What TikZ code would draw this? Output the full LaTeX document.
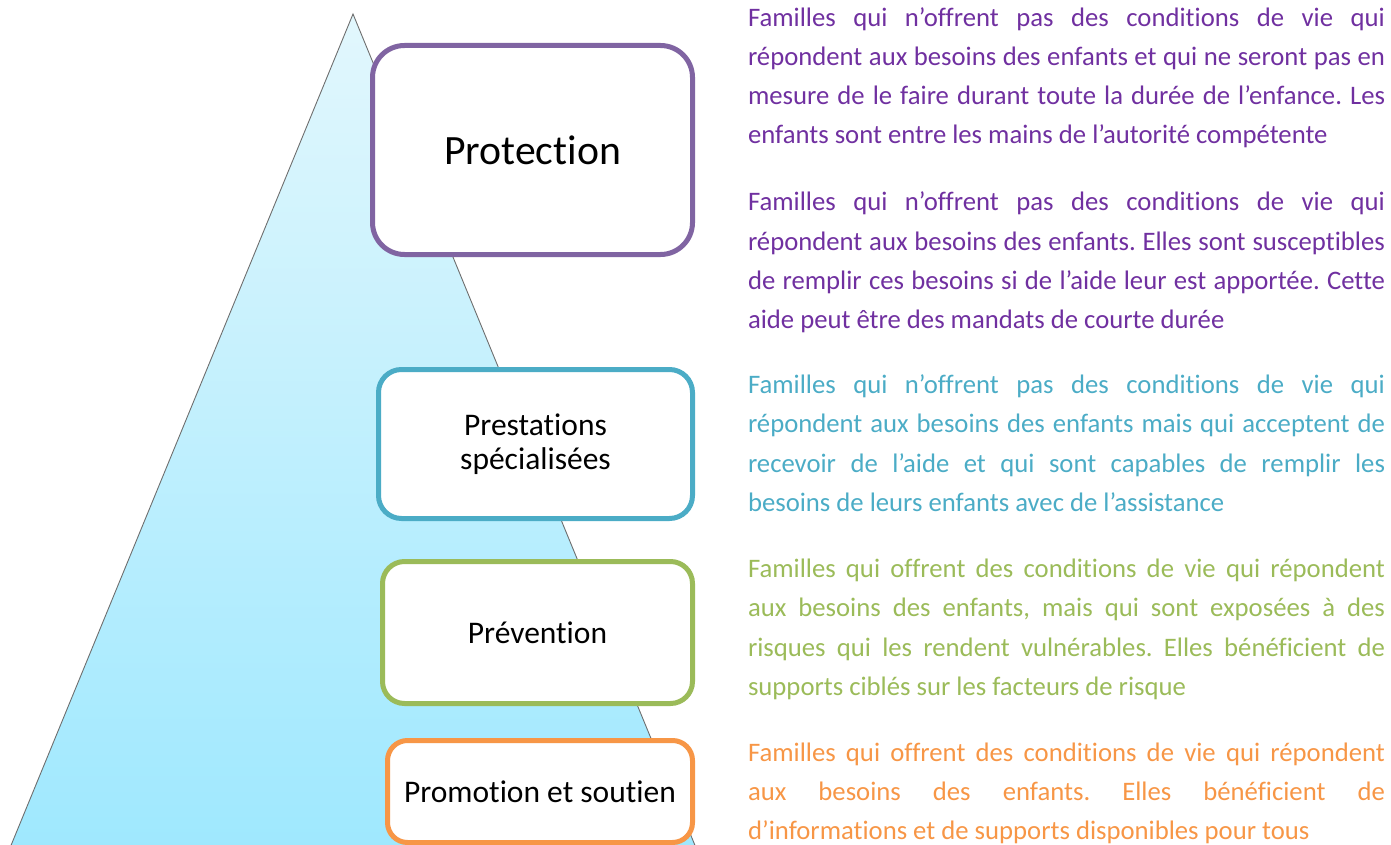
\documentclass[tikz,border=0pt]{standalone}
\usepackage{fontspec}
\setmainfont{Carlito}[Ligatures=NoCommon]
\definecolor{purpleline}{HTML}{8064A2}
\definecolor{purpletext}{HTML}{7030A0}
\definecolor{cyanline}{HTML}{4BACC6}
\definecolor{greenline}{HTML}{9BBB59}
\definecolor{orangeline}{HTML}{F79646}
\definecolor{triTop}{HTML}{E2F7FD}
\definecolor{triBot}{HTML}{9EE8FE}
\definecolor{triEdge}{HTML}{6E6E6E}
\frenchspacing
\begin{document}
\begin{tikzpicture}[x=1pt,y=-1pt,
  levelbox/.style={draw, fill=white, line width=5pt, inner sep=0pt, align=center, text=black},
  desc/.style={anchor=base west, inner sep=0pt, outer sep=0pt, font=\fontsize{26.7}{39}\selectfont},
]
\useasboundingbox (0,0) rectangle (1391,845);
\begin{scope}
  \clip (0,0) rectangle (1391,845);
  \coordinate (apex) at (353,14);
  \coordinate (bl) at (5,860);
  \coordinate (br) at (701,860);
  \shade[top color=triTop, bottom color=triBot, draw=triEdge, line width=0.9pt] (apex) -- (br) -- (bl) -- cycle;
\end{scope}

% level boxes
\node[levelbox, draw=purpleline, rounded corners=32pt, minimum width=320pt, minimum height=209pt,
      font=\fontsize{41.7}{50}\selectfont] (protection) at (532.5,150) {Protection};
\node[levelbox, draw=cyanline, rounded corners=23pt, minimum width=314pt, minimum height=149pt,
      font=\fontsize{31.5}{34}\selectfont] (prestations) at (535.5,444) {Prestations\\spécialisées};
\node[levelbox, draw=greenline, rounded corners=22pt, minimum width=310pt, minimum height=142pt,
      font=\fontsize{31.5}{34}\selectfont] (prevention) at (537.5,632.5) {Prévention};
\node[levelbox, draw=orangeline, rounded corners=20pt, minimum width=305pt, minimum height=102pt,
      font=\fontsize{31.5}{34}\selectfont] (promotion) at (540,791.5) {Promotion et soutien};

% paragraphs 1 and 2 (purple)
\begin{scope}[every node/.style={desc, text=purpletext}]
  \node (p1a) at (748,26.5) {\makebox[637pt][s]{Familles qui n’offrent pas des conditions de vie qui}};
  \node (p1b) at (748,65.5) {\makebox[637pt][s]{répondent aux besoins des enfants et qui ne seront pas en}};
  \node (p1c) at (748,104.5) {\makebox[637pt][s]{mesure de le faire durant toute la durée de l’enfance. Les}};
  \node (p1d) at (748,143.5) {enfants sont entre les mains de l’autorité compétente};
  \node (p2a) at (748,211) {\makebox[637pt][s]{Familles qui n’offrent pas des conditions de vie qui}};
  \node (p2b) at (748,250) {\makebox[637pt][s]{répondent aux besoins des enfants. Elles sont susceptibles}};
  \node (p2c) at (748,289) {\makebox[637pt][s]{de remplir ces besoins si de l’aide leur est apportée. Cette}};
  \node (p2d) at (748,328) {aide peut être des mandats de courte durée};
\end{scope}

% paragraph 3 (cyan)
\begin{scope}[every node/.style={desc, text=cyanline}]
  \node (p3a) at (748,393) {\makebox[637pt][s]{Familles qui n’offrent pas des conditions de vie qui}};
  \node (p3b) at (748,432.5) {\makebox[637pt][s]{répondent aux besoins des enfants mais qui acceptent de}};
  \node (p3c) at (748,472) {\makebox[637pt][s]{recevoir de l’aide et qui sont capables de remplir les}};
  \node (p3d) at (748,511) {besoins de leurs enfants avec de l’assistance};
\end{scope}

% paragraph 4 (green)
\begin{scope}[every node/.style={desc, text=greenline}]
  \node (p4a) at (748,577) {\makebox[637pt][s]{Familles qui offrent des conditions de vie qui répondent}};
  \node (p4b) at (748,616.5) {\makebox[637pt][s]{aux besoins des enfants, mais qui sont exposées à des}};
  \node (p4c) at (748,656) {\makebox[637pt][s]{risques qui les rendent vulnérables. Elles bénéficient de}};
  \node (p4d) at (748,695) {supports ciblés sur les facteurs de risque};
\end{scope}

% paragraph 5 (orange)
\begin{scope}[every node/.style={desc, text=orangeline}]
  \node (p5a) at (748,761) {\makebox[637pt][s]{Familles qui offrent des conditions de vie qui répondent}};
  \node (p5b) at (748,800) {\makebox[637pt][s]{aux besoins des enfants. Elles bénéficient de}};
  \node (p5c) at (748,839) {d’informations et de supports disponibles pour tous};
\end{scope}
\end{tikzpicture}
\end{document}
